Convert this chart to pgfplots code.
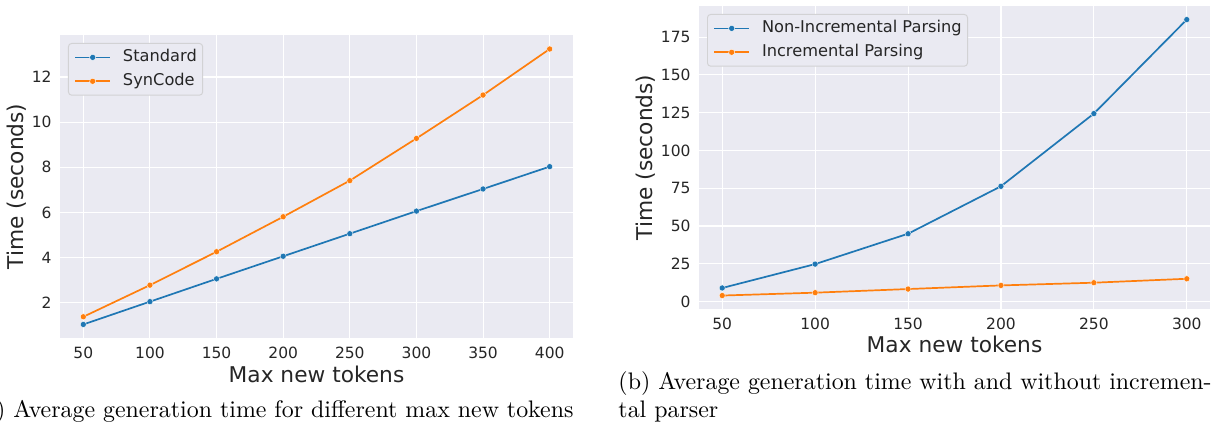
\documentclass[border=0pt]{standalone}
\usepackage{fontspec}
\usepackage{pgfplots}
\pgfplotsset{compat=1.18}
\newfontfamily\dejavu{DejaVu Sans}
\definecolor{bgc}{HTML}{EAEAF2}
\definecolor{txt}{HTML}{262626}
\definecolor{sbblue}{HTML}{1F77B4}
\definecolor{sborange}{HTML}{FF7F0E}
\definecolor{legedge}{HTML}{D2D2D4}
\pgfplotsset{
  sbstyle/.style={
    scale only axis,
    axis background/.style={fill=bgc},
    axis line style={draw=none},
    major tick length=0pt,
    grid=major,
    grid style={white, line width=0.45pt},
    /pgf/number format/assume math mode=true,
    tick label style={font=\dejavu\fontsize{6.35}{7.6}\selectfont, text=txt, inner sep=0pt},
    xticklabel style={anchor=north, yshift=-3.69pt},
    yticklabel style={anchor=east, xshift=-3.28pt},
    label style={font=\dejavu\fontsize{8.9}{10.7}\selectfont, text=txt, inner sep=0pt},
    every axis plot/.append style={line width=0.7pt, mark=*, mark size=1.25pt, mark options={draw=white, line width=0.15pt}},
    legend cell align=left,
    legend image code/.code={\draw[mark repeat=2,mark phase=2,##1,line width=0.7pt,mark options={draw=white, line width=0.15pt}] plot coordinates {(0pt,0pt) (7.17pt,0pt) (14.35pt,0pt)};},
    legend style={at={(0,1)}, anchor=north west, xshift=3.28pt, yshift=-3.28pt,
      fill=bgc, draw=legedge, line width=0.4pt, rounded corners=1.3pt,
      font=\dejavu\fontsize{6.65}{8}\selectfont, text=txt,
      inner xsep=2.4pt, inner ysep=2.6pt, row sep=3.6pt,
      nodes={inner sep=0pt, text height=4.9pt, text depth=1.3pt},
      /tikz/every odd column/.append style={column sep=4.9pt}},
  }
}
\begin{document}
\begin{tikzpicture}
\path[use as bounding box] (0pt,0pt) rectangle (497.74pt,173.43pt);
\clip (0pt,0pt) rectangle (497.74pt,173.43pt);
\begin{axis}[sbstyle, at={(24.6pt,34.85pt)}, anchor=south west,
  width=210.33pt, height=124.23pt,
  xmin=32.5, xmax=417.5, ymin=0.44, ymax=13.86,
  xtick={50,100,...,400}, ytick={2,4,...,12},
  xlabel={Max new tokens}, ylabel={Time (seconds)},
  xlabel style={at={(axis description cs:0.5,-0.1485)}, anchor=base},
  ylabel style={at={(axis description cs:-0.0717,0.5)}, anchor=base}]
\addplot[color=sbblue] coordinates {(50,1.04) (100,2.05) (150,3.06) (200,4.06) (250,5.06) (300,6.06) (350,7.04) (400,8.03)};
\addlegendentry{Standard}
\addplot[color=sborange] coordinates {(50,1.38) (100,2.78) (150,4.26) (200,5.81) (250,7.41) (300,9.28) (350,11.2) (400,13.24)};
\addlegendentry{SynCode}
\end{axis}
\begin{axis}[sbstyle, at={(286.59pt,46.74pt)}, anchor=south west,
  width=209.51pt, height=124.23pt,
  xmin=37.5, xmax=312.5, ymin=-4.9, ymax=195.6,
  xtick={50,100,...,300}, ytick={0,25,...,175},
  xlabel={Max new tokens}, ylabel={Time (seconds)},
  xlabel style={at={(axis description cs:0.5,-0.145)}, anchor=base},
  ylabel style={at={(axis description cs:-0.0918,0.5)}, anchor=base}]
\addplot[color=sbblue] coordinates {(50,9.0) (100,24.8) (150,44.9) (200,76.3) (250,124.4) (300,186.6)};
\addlegendentry{Non-Incremental Parsing}
\addplot[color=sborange] coordinates {(50,4.0) (100,5.9) (150,8.3) (200,10.7) (250,12.5) (300,15.1)};
\addlegendentry{Incremental Parsing}
\end{axis}
\node[anchor=base east, inner sep=0pt, font=\fontsize{9.8}{11.76}\selectfont] at (235.34pt,2.05pt) {(a) Average generation time for different max new tokens};
\node[anchor=base west, inner sep=0pt, font=\fontsize{9.8}{11.76}\selectfont] at (253.38pt,13.53pt) {(b) Average generation time with and without incremen-};
\node[anchor=base west, inner sep=0pt, font=\fontsize{9.8}{11.76}\selectfont] at (253.38pt,2.05pt) {tal parser};
\end{tikzpicture}
\end{document}
